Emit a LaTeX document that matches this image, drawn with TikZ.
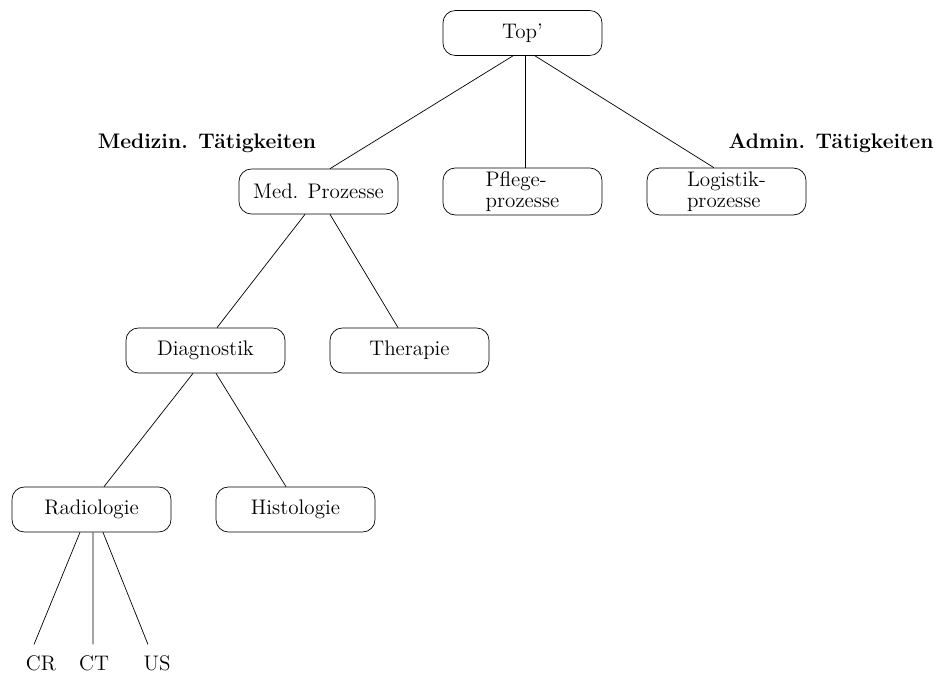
\documentclass[tikz,border=0pt]{standalone}
\usepackage{tikz}
\usetikzlibrary{calc}

\begin{document}
\begin{tikzpicture}[
        x=0.02cm, y=-0.02cm,
        font=\large,
        box/.style={
            draw, rounded corners=7pt,
            minimum width=3.18cm, minimum height=0.9cm,
            inner sep=2pt, align=center
        },
        leaf/.style={inner sep=6pt},
        grouplabel/.style={font=\large\bfseries},
        edge/.style={thin}
    ]
    \useasboundingbox (0,0) rectangle (936,675);

    % Top level
    \node[box] (top) at (522.5,33) {Top'};

    \node[box] (med) at (318.5,191.5) {Med. Prozesse};
    \node[box, align=left] (pflege) at (522.5,191.5) {Pflege-\\[-2pt]prozesse};
    \node[box, align=left] (logistik) at (726.5,191.5) {Logistik-\\[-2pt]prozesse};

    \node[grouplabel] (medlabel) at (207,143) {Medizin. Tätigkeiten};
    \node[grouplabel] (admlabel) at (831,143) {Admin. Tätigkeiten};

    % Medical branch
    \node[box] (diag) at (205.5,350.5) {Diagnostik};
    \node[box] (ther) at (409.5,350.5) {Therapie};

    \node[box] (radio) at (91.5,509.5) {Radiologie};
    \node[box] (histo) at (295.5,509.5) {Histologie};

    \node[leaf] (cr) at (41,663) {CR};
    \node[leaf] (ct) at (94,663) {CT};
    \node[leaf] (us) at (157,663) {US};

    % Connectors
    \draw[edge] ($(top.south)+(-9.5,0)$) -- ($(med.north)+(11.5,0)$);
    \draw[edge] ($(top.south)+(2.5,0)$) -- ($(pflege.north)+(2.5,0)$);
    \draw[edge] ($(top.south)+(12.5,0)$) -- ($(logistik.north)+(-12.5,0)$);

    \draw[edge] ($(med.south)+(-13.5,0)$) -- ($(diag.north)+(11.5,0)$);
    \draw[edge] ($(med.south)+(11.5,0)$) -- ($(ther.north)+(-11.5,0)$);

    \draw[edge] ($(diag.south)+(-12.5,0)$) -- ($(radio.north)+(12.5,0)$);
    \draw[edge] ($(diag.south)+(10.5,0)$) -- ($(histo.north)+(-9.5,0)$);

    \draw[edge] ($(radio.south)+(-11.5,0)$) -- ($(cr.north)+(-7,0)$);
    \draw[edge] ($(radio.south)+(1.5,0)$) -- ($(ct.north)+(-1,0)$);
    \draw[edge] ($(radio.south)+(11.5,0)$) -- ($(us.north)+(-9,0)$);

\end{tikzpicture}
\end{document}
